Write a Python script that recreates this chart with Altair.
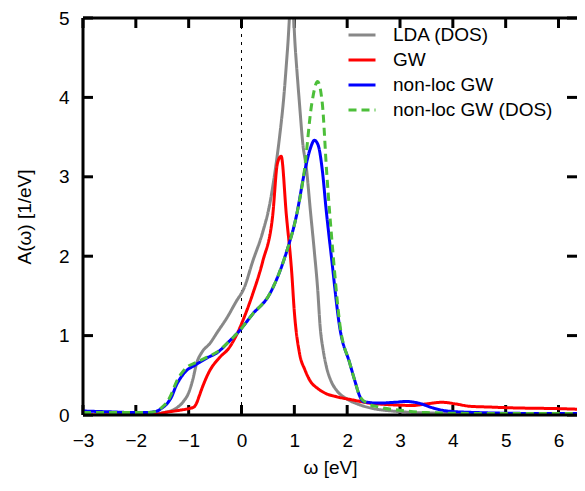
import altair as alt
import pandas as pd

series_names = ["LDA (DOS)", "GW", "non-loc GW", "non-loc GW (DOS)"]
series_colors = ["#888888", "#ff0000", "#0000ff", "#4dbf3a"]
series_widths = [3, 3, 4, 3.5]
series_dash = [[1, 0], [1, 0], [1, 0], [8, 5]]

lda_x = [-3, -2, -1.6, -1.4, -1.25, -1.1, -1.0, -0.92, -0.85, -0.75, -0.6, -0.45, -0.28, -0.1, 0.05,
         0.21, 0.4, 0.53, 0.62, 0.72, 0.8, 0.87, 0.95, 1.02, 1.1, 1.16, 1.23, 1.3, 1.38, 1.44, 1.49,
         1.55, 1.61, 1.7, 1.8, 2.0, 2.23, 2.5, 2.86, 3.3, 4.0, 5.0, 6.5]
lda_y = [0.0, 0.01, 0.02, 0.04, 0.08, 0.17, 0.28, 0.45, 0.65, 0.79, 0.9, 1.05, 1.22, 1.43, 1.6,
         1.93, 2.3, 2.64, 3.0, 3.5, 4.0, 4.6, 5.3, 4.6, 3.9, 3.42, 3.1, 2.6, 2.05, 1.6, 1.1,
         0.8, 0.6, 0.42, 0.31, 0.2, 0.13, 0.08, 0.05, 0.03, 0.02, 0.01, 0.01]

gw_x = [-3, -2, -1.6, -1.46, -1.17, -1.0, -0.9, -0.85, -0.8, -0.74, -0.6, -0.42, -0.23, -0.1, 0.02,
        0.21, 0.4, 0.59, 0.68, 0.75, 0.85, 0.95, 1.0, 1.1, 1.2, 1.29, 1.45, 1.6, 1.8, 2.1, 2.42,
        2.8, 3.24, 3.5, 3.8, 4.05, 4.32, 4.7, 5.13, 6.0, 6.5]
gw_y = [0.0, 0.0, 0.01, 0.03, 0.06, 0.08, 0.1, 0.15, 0.24, 0.35, 0.56, 0.72, 0.85, 1.0, 1.18,
        1.52, 1.93, 2.51, 3.17, 3.26, 2.51, 1.8, 1.3, 0.77, 0.57, 0.44, 0.33, 0.27, 0.23, 0.19, 0.15,
        0.13, 0.12, 0.14, 0.16, 0.14, 0.11, 0.1, 0.09, 0.08, 0.07]

nl_x = [-3, -2.5, -2, -1.8, -1.6, -1.5, -1.4, -1.33, -1.23, -1.14, -1.04, -0.9, -0.8, -0.65, -0.47,
        -0.23, -0.04, 0.21, 0.53, 0.85, 1.04, 1.19, 1.3, 1.38, 1.45, 1.53, 1.6, 1.7, 1.86, 2.05,
        2.15, 2.23, 2.3, 2.6, 2.9, 3.12, 3.35, 3.62, 3.9, 4.5, 5.5, 6.5]
nl_y = [0.05, 0.04, 0.03, 0.03, 0.05, 0.09, 0.15, 0.22, 0.38, 0.48, 0.56, 0.62, 0.66, 0.72, 0.78,
        0.93, 1.06, 1.27, 1.52, 2.05, 2.51, 3.05, 3.35, 3.46, 3.4, 3.08, 2.6, 2.0, 1.1, 0.65,
        0.42, 0.25, 0.17, 0.15, 0.16, 0.17, 0.15, 0.09, 0.05, 0.03, 0.02, 0.02]

nld_x = [-3, -2.5, -2, -1.8, -1.6, -1.5, -1.4, -1.33, -1.23, -1.14, -1.04, -0.9, -0.8, -0.65, -0.47,
         -0.23, -0.04, 0.21, 0.53, 0.85, 1.04, 1.19, 1.33, 1.44, 1.53, 1.61, 1.73, 1.86, 2.05,
         2.15, 2.23, 2.37, 2.6, 3.0, 3.5, 4.5, 5.5, 6.5]
nld_y = [0.03, 0.03, 0.03, 0.03, 0.05, 0.1, 0.17, 0.26, 0.42, 0.52, 0.6, 0.65, 0.68, 0.73, 0.79,
         0.93, 1.06, 1.27, 1.52, 2.05, 2.51, 3.08, 3.92, 4.2, 3.92, 3.08, 2.05, 1.15, 0.65,
         0.42, 0.25, 0.15, 0.1, 0.06, 0.03, 0.02, 0.02, 0.02]

x_ticks = [-3, -2, -1, 0, 1, 2, 3, 4, 5, 6]
y_ticks = [0, 1, 2, 3, 4, 5]
x_range = [-3, 6.35]
y_range = [0, 5]

W, H = 494, 397
FONT = "Liberation Sans"

rows = []
for name, xs, ys in zip(series_names, [lda_x, gw_x, nl_x, nld_x], [lda_y, gw_y, nl_y, nld_y]):
    for i, (a, b) in enumerate(zip(xs, ys)):
        rows.append({"series": name, "x": a, "y": b, "i": i})
df = pd.DataFrame(rows)

xscale = alt.Scale(domain=x_range, nice=False, zero=False)
yscale = alt.Scale(domain=y_range, nice=False, zero=False)

x_axis = alt.Axis(values=x_ticks, title="ω [eV]", labelFontSize=19, titleFontSize=19,
                  labelFont=FONT, titleFont=FONT, titleFontWeight="normal",
                  ticks=False, tickSize=0, domain=False, grid=False, labelFlush=False,
                  labelPadding=16, titlePadding=8, labelColor="black", titleColor="black")
y_axis = alt.Axis(values=y_ticks, title="A(ω) [1/eV]", labelFontSize=19, titleFontSize=19,
                  labelFont=FONT, titleFont=FONT, titleFontWeight="normal",
                  ticks=False, tickSize=0, domain=False, grid=False, labelFlush=False,
                  labelPadding=14, titlePadding=24, labelColor="black", titleColor="black")

XT = "ω [eV]"
YT = "A(ω) [1/eV]"

lines = alt.Chart(df).mark_line(clip=True, interpolate="monotone").encode(
    x=alt.X("x:Q", scale=xscale, axis=x_axis, title=XT),
    y=alt.Y("y:Q", scale=yscale, axis=y_axis, title=YT),
    color=alt.Color("series:N", scale=alt.Scale(domain=series_names, range=series_colors),
                    legend=alt.Legend(title=None)),
    strokeDash=alt.StrokeDash("series:N", scale=alt.Scale(domain=series_names, range=series_dash),
                              legend=alt.Legend(title=None)),
    strokeWidth=alt.StrokeWidth("series:N", scale=alt.Scale(domain=series_names, range=series_widths),
                                legend=alt.Legend(title=None)),
    order="i:Q",
)

zero_line = alt.Chart(pd.DataFrame({"v": [0]})).mark_rule(
    color="black", strokeWidth=1, strokeDash=[3, 5]
).encode(x=alt.X("v:Q", scale=xscale, axis=x_axis, title=XT))

frame_style = dict(color="black", strokeWidth=3)
frame_left = alt.Chart(pd.DataFrame({"v": [x_range[0]]})).mark_rule(**frame_style).encode(
    x=alt.X("v:Q", scale=xscale, axis=x_axis, title=XT))
frame_h = alt.Chart(pd.DataFrame({"v": y_range})).mark_rule(**frame_style).encode(
    y=alt.Y("v:Q", scale=yscale, axis=y_axis, title=YT))

xt = pd.DataFrame({"v": x_ticks})
yt = pd.DataFrame({"v": y_ticks})
tick_style = dict(color="black", strokeWidth=3)
xt_bottom = alt.Chart(xt).mark_rule(**tick_style).encode(
    x=alt.X("v:Q", scale=xscale, axis=x_axis, title=XT), y=alt.value(H), y2=alt.value(H - 10))
xt_top = alt.Chart(xt).mark_rule(**tick_style).encode(
    x=alt.X("v:Q", scale=xscale, axis=x_axis, title=XT), y=alt.value(0), y2=alt.value(10))
yt_left = alt.Chart(yt).mark_rule(**tick_style).encode(
    y=alt.Y("v:Q", scale=yscale, axis=y_axis, title=YT), x=alt.value(0), x2=alt.value(10))
yt_right = alt.Chart(yt).mark_rule(**tick_style).encode(
    y=alt.Y("v:Q", scale=yscale, axis=y_axis, title=YT), x=alt.value(W), x2=alt.value(W - 10))

chart = alt.layer(zero_line, xt_bottom, xt_top, yt_left, yt_right, lines, frame_left, frame_h).properties(
    width=W, height=H,
    autosize=alt.AutoSizeParams(type="none"),
    padding={"left": 75, "top": 10, "right": 0, "bottom": 66},
).configure_view(strokeWidth=0).configure_legend(
    orient="none", legendX=264, legendY=2, symbolType="stroke", symbolSize=729,
    symbolStrokeWidth=3.5, labelFontSize=19, labelFont=FONT, labelColor="black",
    rowPadding=0, labelOffset=16, padding=0, labelLimit=0,
)

chart.save("out.html", embed_options={"renderer": "svg", "actions": False})
